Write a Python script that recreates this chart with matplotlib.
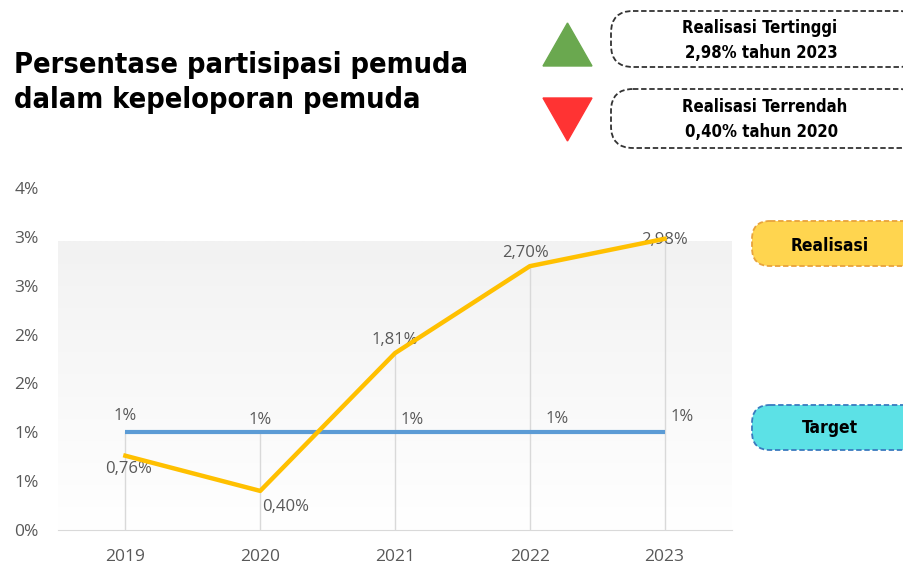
import numpy as np
import matplotlib.pyplot as plt
from matplotlib.patches import FancyBboxPatch, Polygon

# data
years = ["2019", "2020", "2021", "2022", "2023"]
realisasi = [0.76, 0.40, 1.81, 2.70, 2.98]
target = [1.0, 1.0, 1.0, 1.0, 1.0]
realisasi_labels = ["0,76%", "0,40%", "1,81%", "2,70%", "2,98%"]
target_labels = ["1%", "1%", "1%", "1%", "1%"]
yticks = [0, 0.5, 1.0, 1.5, 2.0, 2.5, 3.0, 3.5]
ytick_labels = ["0%", "1%", "1%", "2%", "2%", "3%", "3%", "4%"]

cond = dict(family="DejaVu Sans", fontstretch="condensed", fontweight="bold")
body = ["Open Sans", "DejaVu Sans"]
grey = "#595959"

fig = plt.figure(figsize=(9.04, 5.65), dpi=100)

# overlay in pixel coordinates for the header and the side boxes
ov = fig.add_axes([0, 0, 1, 1])
ov.set_xlim(0, 904)
ov.set_ylim(565, 0)
ov.axis("off")

ov.text(14, 73, "Persentase partisipasi pemuda", fontsize=20.8, va="baseline", ha="left", **cond)
ov.text(14, 108, "dalam kepeloporan pemuda", fontsize=20.8, va="baseline", ha="left", **cond)

# triangles
ov.add_patch(Polygon([[543, 66], [592, 66], [567.5, 23]], closed=True, color="#6aa84f"))
ov.add_patch(Polygon([[543, 98], [592, 98], [567.5, 141]], closed=True, color="#ff3333"))


def box(x, y, w, h, fc, ec, r):
    ov.add_patch(FancyBboxPatch((x, y), w, h, boxstyle="round,pad=0,rounding_size=%d" % r,
                                fc=fc, ec=ec, lw=1.3, ls=(0, (3, 1.5))))


box(611, 11, 310, 56, "white", "#333333", 22)
box(611, 89, 310, 59, "white", "#333333", 22)
ov.text(760, 33, "Realisasi Tertinggi", fontsize=12, ha="center", va="baseline", **cond)
ov.text(761, 58, "2,98% tahun 2023", fontsize=12, ha="center", va="baseline", **cond)
ov.text(765, 112, "Realisasi Terrendah", fontsize=12, ha="center", va="baseline", **cond)
ov.text(762, 137, "0,40% tahun 2020", fontsize=12, ha="center", va="baseline", **cond)

box(752, 221, 170, 45, "#ffd54f", "#e8a33d", 18)
box(752, 405, 170, 45, "#5ce1e6", "#3a7bbf", 18)
ov.text(830, 251, "Realisasi", fontsize=12.5, ha="center", va="baseline", **cond)
ov.text(830, 433, "Target", fontsize=12.5, ha="center", va="baseline", **cond)

# chart
ax = fig.add_axes([58 / 904, 1 - 530 / 565, 674 / 904, 342 / 565])
x = np.arange(len(years))

grad = np.linspace(1, 0, 256).reshape(-1, 1)
cmap = plt.matplotlib.colors.LinearSegmentedColormap.from_list("g", ["#f2f2f2", "#ffffff"])
ax.imshow(grad, extent=[-0.5, 4.5, 0, 2.95], aspect="auto", origin="lower",
          cmap=cmap, vmin=0, vmax=1, zorder=0)

for i in x:
    ax.plot([i, i], [0, max(realisasi[i], target[i])], color="#d9d9d9", lw=1, zorder=1)

ax.plot(x, target, color="#5b9bd5", lw=3, zorder=3, solid_capstyle="butt")
ax.plot(x, realisasi, color="#ffc000", lw=3.2, zorder=4, solid_joinstyle="round")

t_off = [(0, 6), (0, 3), (12, 3), (20, 4), (13, 5)]
for i, (dx, dy) in enumerate(t_off):
    ax.annotate(target_labels[i], (x[i], target[i]), xytext=(dx, dy), textcoords="offset points",
                ha="center", va="bottom", fontsize=12, color=grey, family=body)

r_off = [(2, -4), (18, -6), (0, 4), (-3, 4), (0, -1)]
r_va = ["top", "top", "bottom", "bottom", "center"]
for i, (dx, dy) in enumerate(r_off):
    ax.annotate(realisasi_labels[i], (x[i], realisasi[i]), xytext=(dx, dy),
                textcoords="offset points", ha="center", va=r_va[i], fontsize=12,
                color=grey, family=body)

ax.set_xlim(-0.5, 4.5)
ax.set_ylim(0, 3.5)
ax.set_xticks(x)
ax.set_xticklabels(years, fontsize=12.5, color=grey, family=body)
ax.set_yticks(yticks)
ax.set_yticklabels(ytick_labels, fontsize=12.5, color=grey, family=body)
ax.tick_params(axis="x", length=0, pad=14)
ax.tick_params(axis="y", length=0, pad=14)
for s in ["top", "right", "left"]:
    ax.spines[s].set_visible(False)
ax.spines["bottom"].set_color("#d9d9d9")
ax.set_facecolor("none")

fig.savefig("out.png", dpi=100)
